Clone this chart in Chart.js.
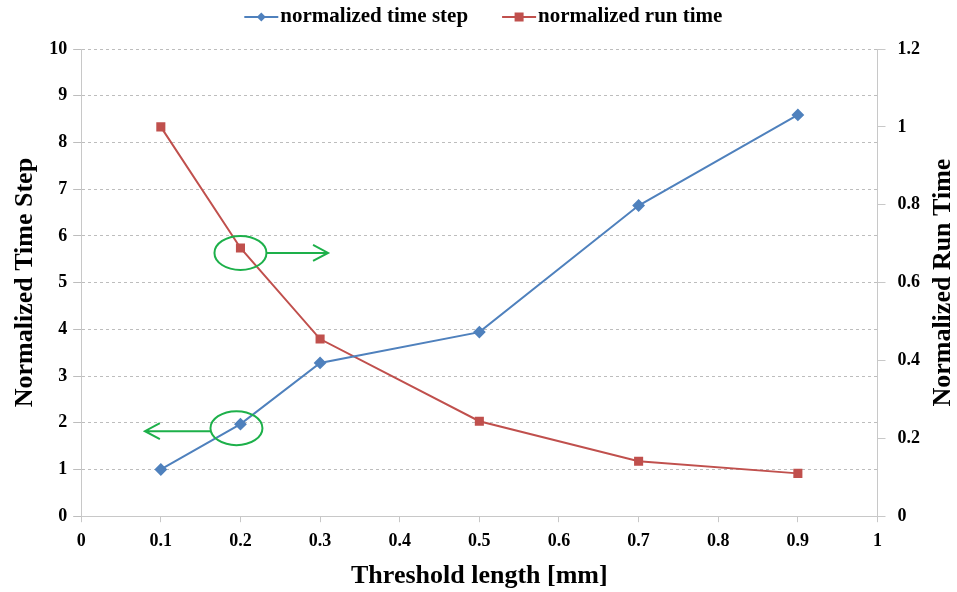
<!DOCTYPE html>
<html>
<head>
<meta charset="utf-8">
<script src="https://cdn.jsdelivr.net/npm/chart.js@4/dist/chart.umd.min.js"></script>
<style>
  body { margin: 0; background: #fff; }
  #wrap { width: 957px; height: 592px; }
</style>
</head>
<body>
<div id="wrap"><canvas id="chart"></canvas></div>
<script>
// data
var thresholds = [0.1, 0.2, 0.3, 0.5, 0.7, 0.9];
var timeStep = [1.0, 1.97, 3.28, 3.94, 6.65, 8.59];
var runTime = [1.0, 0.689, 0.455, 0.244, 0.141, 0.11];
var seriesNames = ["normalized time step", "normalized run time"];
var rightTitle = "Normalized Run Time";

var blue = "#4F81BD";
var red = "#C0504D";
var green = "#1DB04A";
var font = "'Liberation Serif', 'Times New Roman', serif";

function pts(ys){
    var out = [];
    for(var i = 0; i < thresholds.length; i++){
        out.push({x: thresholds[i], y: ys[i]});
    }
    return out;
}

function fmt(v){
    return String(parseFloat(Number(v).toFixed(1)));
}

// legend (line + marker icons) drawn above the plot, plus green circles/arrows and right title
var extras = {
    id: "extras",
    afterDraw: function(chart){
        var ctx = chart.ctx;
        var xs = chart.scales.x;
        var area = chart.chartArea;
        ctx.save();

        // legend
        ctx.font = "bold 21px " + font;
        ctx.textBaseline = "middle";
        ctx.textAlign = "left";
        var iconW = 34, gap = 2, between = 34, ly = 17;
        var total = 0;
        for(var i = 0; i < chart.data.datasets.length; i++){
            total += iconW + gap + ctx.measureText(chart.data.datasets[i].label).width;
            if(i > 0) total += between;
        }
        var lx = (area.left + area.right) / 2 + 4 - total / 2;
        chart.data.datasets.forEach(function(ds, i){
            ctx.strokeStyle = ds.borderColor;
            ctx.fillStyle = ds.borderColor;
            ctx.lineWidth = 2;
            ctx.beginPath(); ctx.moveTo(lx, ly); ctx.lineTo(lx + iconW, ly); ctx.stroke();
            var cx = lx + iconW / 2;
            if(ds.pointStyle == "rectRot"){
                ctx.beginPath(); ctx.moveTo(cx, ly - 4.5); ctx.lineTo(cx + 4.5, ly); ctx.lineTo(cx, ly + 4.5); ctx.lineTo(cx - 4.5, ly); ctx.closePath(); ctx.fill();
            } else {
                ctx.fillRect(cx - 4.5, ly - 4.5, 9, 9);
            }
            ctx.fillStyle = "#000";
            ctx.fillText(ds.label, lx + iconW + gap, ly);
            lx += iconW + gap + ctx.measureText(ds.label).width + between;
        });

        // green annotations
        ctx.strokeStyle = green;
        ctx.lineWidth = 2;
        function arrow(x1, y, x2){
            var d = x2 > x1 ? -1 : 1;
            ctx.beginPath();
            ctx.moveTo(x1, y); ctx.lineTo(x2, y);
            ctx.moveTo(x2 + d * 15, y - 8); ctx.lineTo(x2, y); ctx.lineTo(x2 + d * 15, y + 8);
            ctx.stroke();
        }
        var r = chart.getDatasetMeta(1).data[1];
        ctx.beginPath(); ctx.ellipse(r.x, r.y + 5, 26, 17, 0, 0, Math.PI * 2); ctx.stroke();
        arrow(r.x + 26, r.y + 5, xs.getPixelForValue(0.31));
        var b = chart.getDatasetMeta(0).data[1];
        ctx.beginPath(); ctx.ellipse(b.x - 4, b.y + 4, 26, 17, 0, 0, Math.PI * 2); ctx.stroke();
        arrow(b.x - 30, b.y + 7, xs.getPixelForValue(0.08));

        // right title, reading bottom to top like the left one
        ctx.translate(943, (area.top + area.bottom) / 2);
        ctx.rotate(-Math.PI / 2);
        ctx.fillStyle = "#000";
        ctx.font = "bold 26px " + font;
        ctx.textAlign = "center";
        ctx.textBaseline = "middle";
        ctx.fillText(rightTitle, 0, 0);
        ctx.restore();
    }
};

var ctx = document.getElementById("chart");
var graph = new Chart(ctx, {
    type: "line",
    data: {
        datasets: [{
            label: seriesNames[0],
            data: pts(timeStep),
            yAxisID: "y",
            borderColor: blue,
            backgroundColor: blue,
            borderWidth: 2,
            pointStyle: "rectRot",
            pointRadius: 5,
            tension: 0
        }, {
            label: seriesNames[1],
            data: pts(runTime),
            yAxisID: "y1",
            borderColor: red,
            backgroundColor: red,
            borderWidth: 2,
            pointStyle: "rect",
            pointRadius: 5,
            tension: 0
        }]
    },
    plugins: [extras],
    options: {
        responsive: true,
        maintainAspectRatio: false,
        animation: false,
        layout: { padding: { left: 10, right: 25, top: 49, bottom: 0 } },
        plugins: {
            tooltip: { enabled: false },
            legend: { display: false }
        },
        scales: {
            x: {
                type: "linear",
                min: 0, max: 1,
                ticks: { stepSize: 0.1, color: "#000", padding: 8, maxRotation: 0, callback: fmt,
                         font: { family: font, size: 18, weight: "bold" } },
                grid: { drawOnChartArea: false, drawTicks: true, tickLength: 6, color: "#c8c8c8" },
                border: { color: "#c8c8c8" },
                title: { display: true, text: "Threshold length [mm]", color: "#000",
                         font: { family: font, size: 26, weight: "bold" }, padding: { top: 1, bottom: 0 } }
            },
            y: {
                position: "left",
                min: 0, max: 10,
                ticks: { stepSize: 1, color: "#000", padding: 6,
                         font: { family: font, size: 18, weight: "bold" } },
                grid: { color: "#bdbdbd", tickLength: 8, tickBorderDash: [] },
                border: { color: "#c8c8c8", dash: [3, 3] },
                title: { display: true, text: "Normalized Time Step", color: "#000",
                         font: { family: font, size: 26, weight: "bold" }, padding: { top: 0, bottom: 2 } }
            },
            y1: {
                position: "right",
                min: 0, max: 1.2,
                ticks: { stepSize: 0.2, color: "#000", padding: 12, callback: fmt,
                         font: { family: font, size: 18, weight: "bold" } },
                grid: { drawOnChartArea: false, tickLength: 8, color: "#c8c8c8" },
                border: { color: "#c8c8c8" }
            }
        }
    }
});
</script>
</body>
</html>
